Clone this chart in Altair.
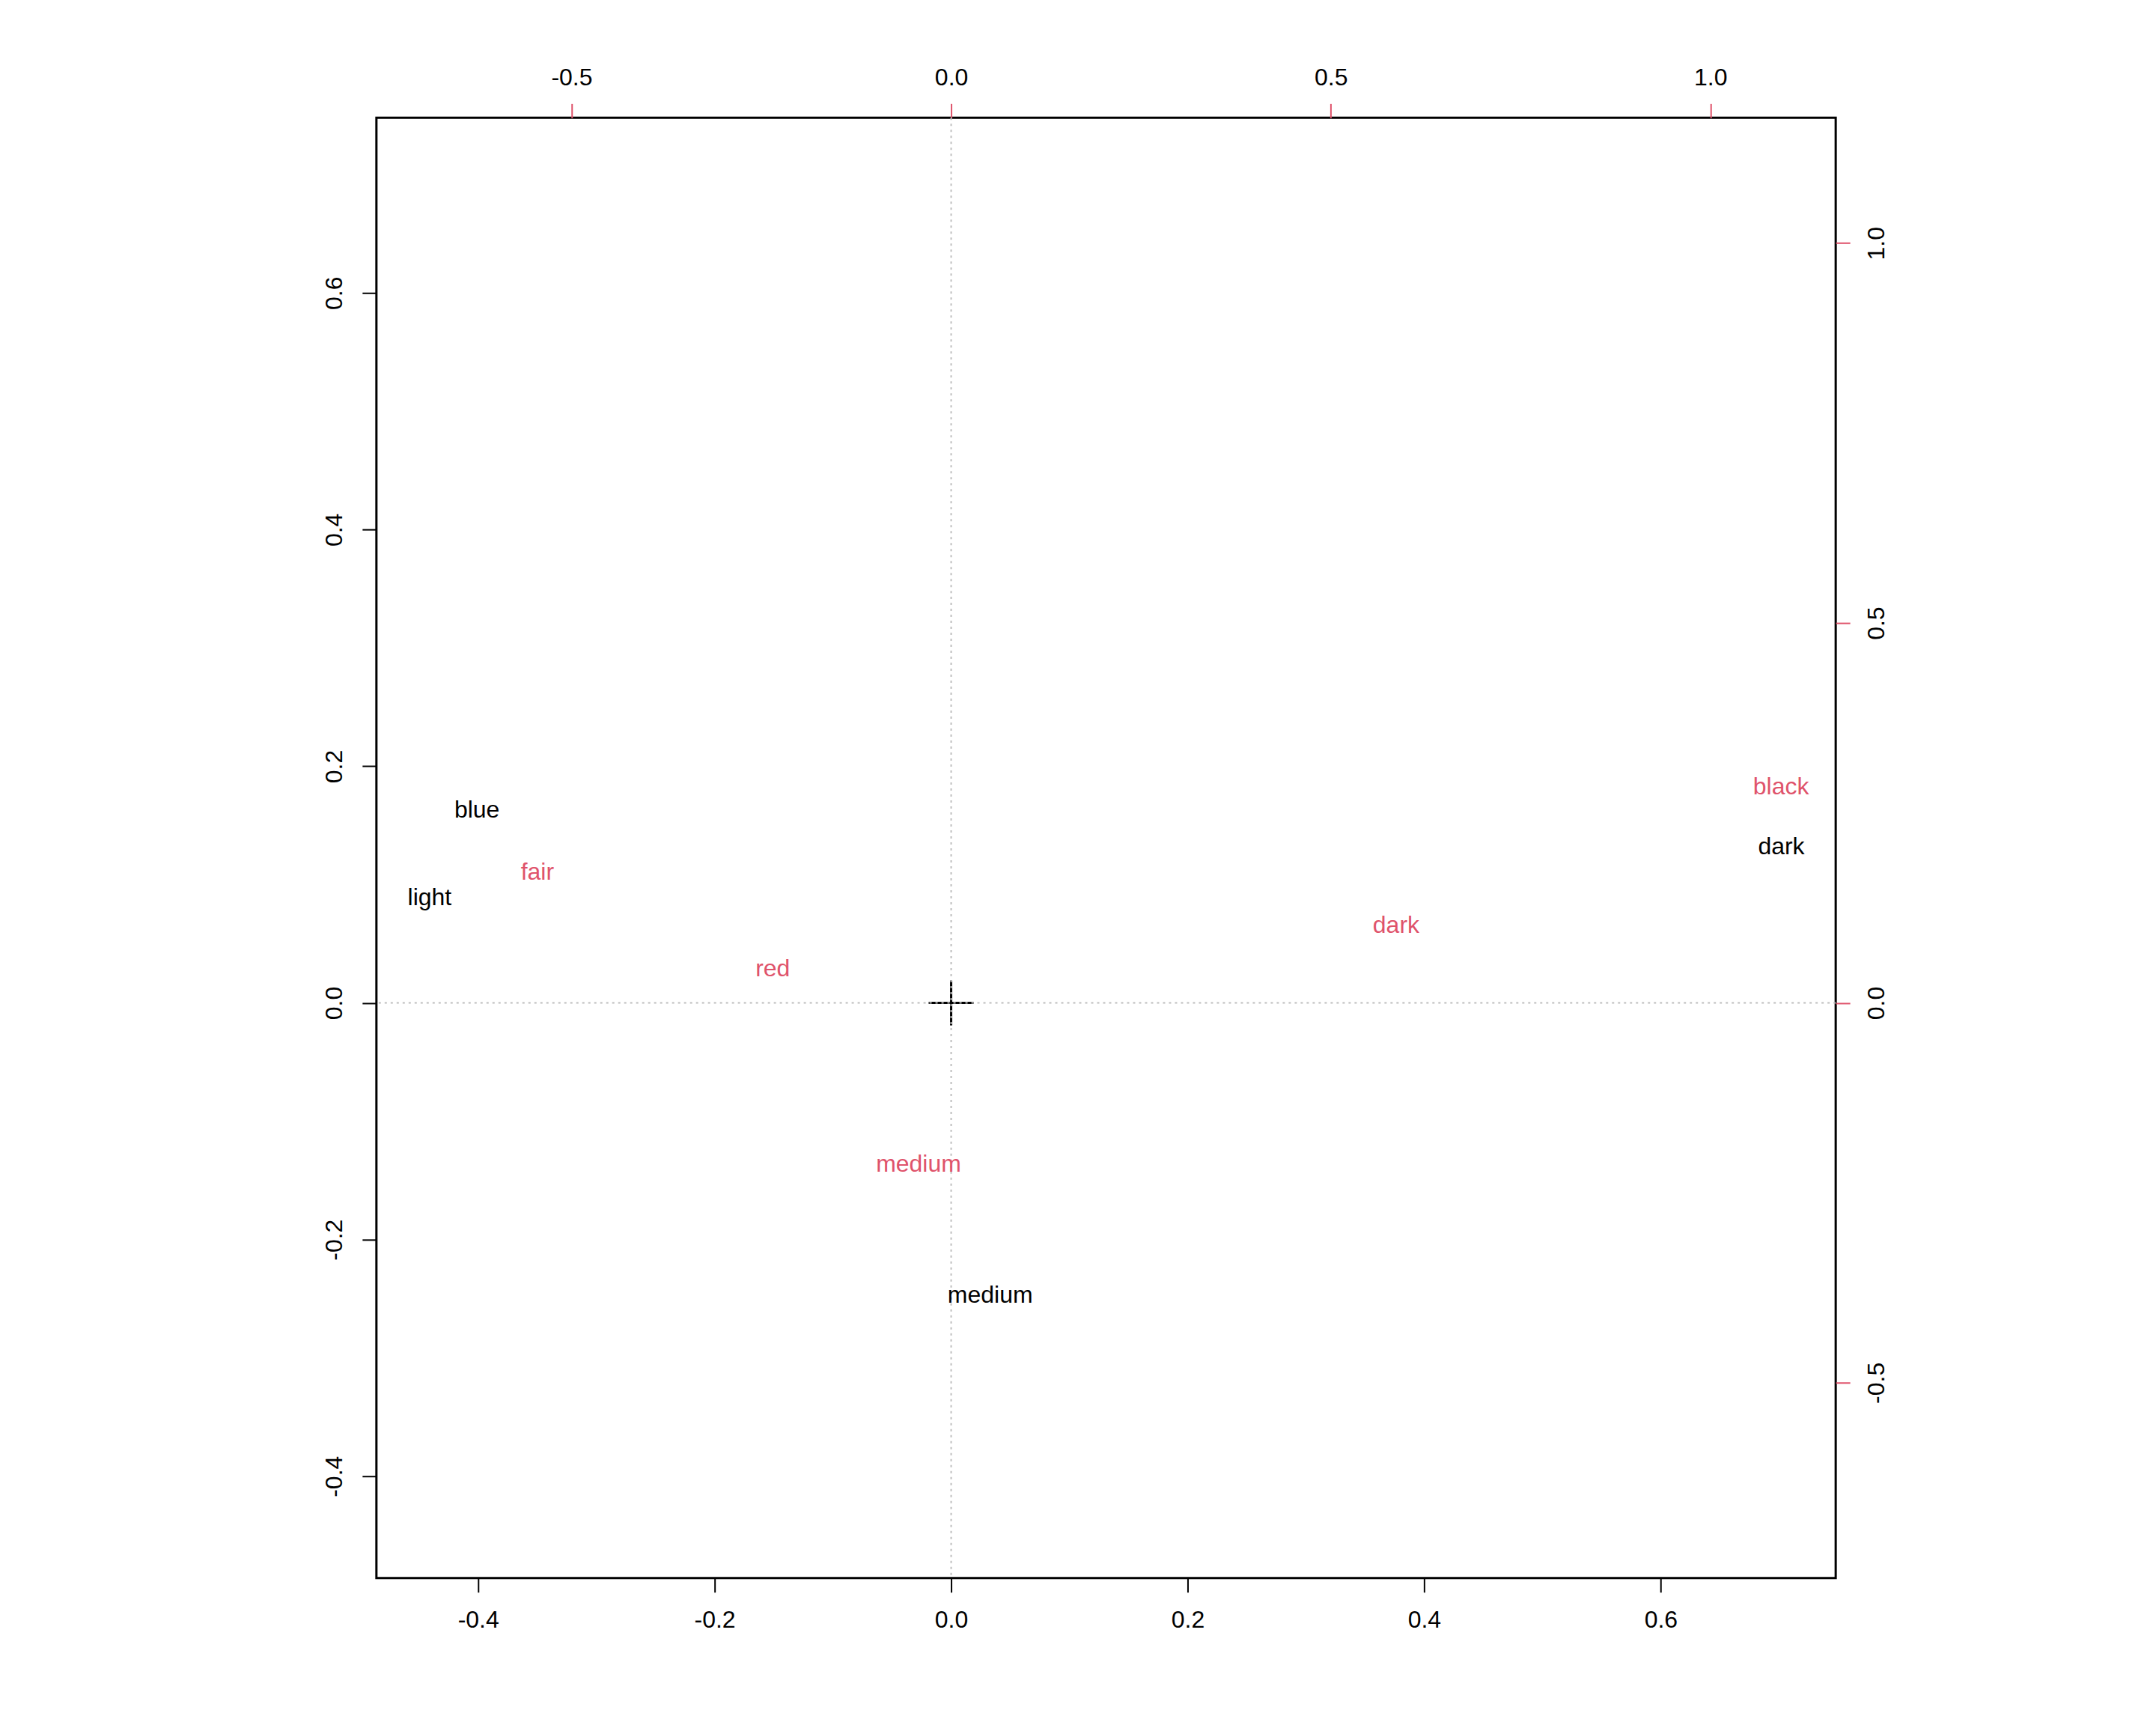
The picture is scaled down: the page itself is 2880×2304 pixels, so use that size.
import altair as alt
import pandas as pd

# Row points (eye colour) - primary scale (bottom/left axes)
row_labels = ["blue", "light", "medium", "dark"]
row_x = [-0.401, -0.441, 0.033, 0.702]
row_y = [0.163, 0.089, -0.247, 0.132]

# Column points (hair colour) - secondary scale (top/right axes)
col_labels = ["fair", "red", "medium", "dark", "black"]
col_x = [-0.545, -0.235, -0.043, 0.586, 1.093]
col_y = [0.172, 0.045, -0.212, 0.102, 0.284]

prim_ticks = [-0.4, -0.2, 0.0, 0.2, 0.4, 0.6]
sec_ticks = [-0.5, 0.0, 0.5, 1.0]
prim_domain = [-0.486, 0.748]
sec_domain = [-0.757, 1.165]
cross_half = 0.019

RED = "#DF536B"
FONT = "Liberation Sans"
FS = 32
lab_expr = "(datum.value < 0 ? '-' : '') + format(abs(datum.value), '.1f')"

rows = pd.DataFrame({"x": row_x, "y": row_y, "label": row_labels})
cols = pd.DataFrame({"x": col_x, "y": col_y, "label": col_labels})
zero = pd.DataFrame({"v": [0.0], "a": [-cross_half], "b": [cross_half]})

pxs = alt.Scale(domain=prim_domain, nice=False, zero=False)
pys = alt.Scale(domain=prim_domain, nice=False, zero=False)
sxs = alt.Scale(domain=sec_domain, nice=False, zero=False)
sys_ = alt.Scale(domain=sec_domain, nice=False, zero=False)

common = dict(domain=False, grid=False, title=None, labelFont=FONT, labelFontSize=FS,
              labelColor="black", tickWidth=2, tickSize=19, labelFlush=False,
              labelOverlap=False, labelExpr=lab_expr)

ax_bottom = alt.Axis(orient="bottom", values=prim_ticks, tickColor="black", labelPadding=22, **common)
ax_left = alt.Axis(orient="left", values=prim_ticks, tickColor="black", labelAngle=270,
                   labelAlign="center", labelBaseline="bottom", labelPadding=20, **common)
ax_top = alt.Axis(orient="top", values=sec_ticks, tickColor=RED, labelPadding=18, **common)
ax_right = alt.Axis(orient="right", values=sec_ticks, tickColor=RED, labelAngle=270,
                    labelAlign="center", labelBaseline="top", labelPadding=20, **common)

cross_h = alt.Chart(zero).mark_rule(color="black", strokeWidth=3).encode(
    x=alt.X("a:Q", scale=pxs, axis=ax_bottom), x2="b:Q",
    y=alt.Y("v:Q", scale=pys, axis=ax_left))
cross_v = alt.Chart(zero).mark_rule(color="black", strokeWidth=3).encode(
    y=alt.Y("a:Q", scale=pys, axis=ax_left), y2="b:Q",
    x=alt.X("v:Q", scale=pxs, axis=ax_bottom))
vline = alt.Chart(zero).mark_rule(color="#BEBEBE", strokeWidth=2, strokeDash=[3, 5]).encode(
    x=alt.X("v:Q", scale=pxs, axis=ax_bottom))
hline = alt.Chart(zero).mark_rule(color="#BEBEBE", strokeWidth=2, strokeDash=[3, 5]).encode(
    y=alt.Y("v:Q", scale=pys, axis=ax_left))

row_text = alt.Chart(rows).mark_text(font=FONT, fontSize=FS, color="black",
                                     align="center", baseline="middle").encode(
    x=alt.X("x:Q", scale=pxs, axis=ax_bottom),
    y=alt.Y("y:Q", scale=pys, axis=ax_left),
    text="label:N")

primary = alt.layer(cross_h, cross_v, vline, hline, row_text)

col_text = alt.Chart(cols).mark_text(font=FONT, fontSize=FS, color=RED,
                                     align="center", baseline="middle").encode(
    x=alt.X("x:Q", scale=sxs, axis=ax_top),
    y=alt.Y("y:Q", scale=sys_, axis=ax_right),
    text="label:N")

chart = alt.layer(primary, col_text).resolve_scale(
    x="independent", y="independent"
).properties(
    width=1950, height=1951,
    autosize=alt.AutoSizeParams(type="none"),
    padding={"left": 495, "top": 149, "right": 420, "bottom": 190},
).configure(
    background="white",
    view=alt.ViewConfig(stroke="black", strokeWidth=3),
)

chart.save("out.html", embed_options={"renderer": "svg", "actions": False})
